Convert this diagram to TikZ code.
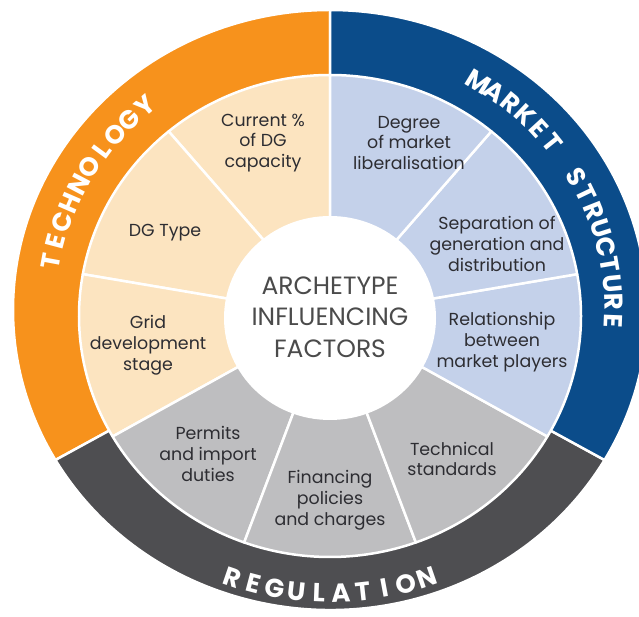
\documentclass[tikz,border=0pt]{standalone}
\usepackage{fontspec}
\setmainfont{Poppins}
\usetikzlibrary{calc}
\definecolor{techO}{RGB}{247,146,28}
\definecolor{techL}{RGB}{252,228,192}
\definecolor{mktD}{RGB}{11,76,138}
\definecolor{mktL}{RGB}{196,209,234}
\definecolor{regD}{RGB}{78,78,81}
\definecolor{regL}{RGB}{190,190,192}
\definecolor{txt}{RGB}{45,45,50}
\definecolor{ctxt}{RGB}{75,75,75}
\newcommand\wedgepie[6]{%
  \filldraw[fill=#1, draw=white, line width=2.5pt, line join=round]
    (#2) -- +(#3:#5 and #6) arc[start angle=#3, end angle=#4, x radius=#5, y radius=#6] -- cycle;}
\tikzset{
  factor/.style={align=center, text=txt, inner sep=0pt,
    font=\fontsize{17.4}{20.8}\selectfont},
  centretext/.style={align=center, text=ctxt, inner sep=0pt,
    font=\fontsize{25}{31.5}\selectfont},
  ringlbl/.style={text=white, inner sep=0pt, anchor=center,
    font=\fontsize{26}{26}\selectfont\bfseries}
}
\begin{document}
\begin{tikzpicture}[x=1pt,y=1pt]
\clip (0,0) rectangle (639,617);
\fill[white] (0,0) rectangle (639,617);
\coordinate (O) at (330,307);
\coordinate (I) at (330,301);
\coordinate (W) at (330,299);
% outer ring
\wedgepie{techO}{O}{90}{210}{317pt}{300pt}
\wedgepie{regD}{O}{210}{330}{317pt}{300pt}
\wedgepie{mktD}{O}{-30}{90}{317pt}{300pt}
% inner wedges
\wedgepie{techL}{I}{90}{130}{251pt}{241pt}
\wedgepie{techL}{I}{130}{170}{251pt}{241pt}
\wedgepie{techL}{I}{170}{210}{251pt}{241pt}
\wedgepie{regL}{I}{210}{250}{251pt}{241pt}
\wedgepie{regL}{I}{250}{290}{251pt}{241pt}
\wedgepie{regL}{I}{290}{330}{251pt}{241pt}
\wedgepie{mktL}{I}{-30}{10}{251pt}{241pt}
\wedgepie{mktL}{I}{10}{50}{251pt}{241pt}
\wedgepie{mktL}{I}{50}{90}{251pt}{241pt}
% centre
\fill[white] (W) ellipse [x radius=106pt, y radius=102pt];
\node[centretext] (centre) at (330,300) {ARCHETYPE\\INFLUENCING\\FACTORS};
% factors
\node[factor] (current) at (263,474) {Current \%\\of DG\\capacity};
\node[factor] (dgtype) at (165,384) {DG Type};
\node[factor] (grid) at (148,272) {Grid\\development\\stage};
\node[factor] (permits) at (208,163) {Permits\\and import\\duties};
\node[factor] (financing) at (330,117) {Financing\\policies\\and charges};
\node[factor] (technical) at (452,158) {Technical\\standards};
\node[factor] (relation) at (502,275) {Relationship\\between\\market players};
\node[factor] (separation) at (497,373) {Separation of\\generation and\\distribution};
\node[factor] (degree) at (409,474) {Degree\\of market\\liberalisation};
% ring labels
\foreach \ch [count=\i from 0] in {T,E,C,H,N,O,L,O,G,Y}{
  \pgfmathsetmacro\ang{169.5-4.32*\i}
  \node[ringlbl, rotate=\ang-90] (tech\i) at ($(O)+(\ang:284pt and 269pt)$) {\ch};
}
\foreach \ch/\k in {M/0,A/1,R/2,K/3,E/4,T/5,S/7.2,T/8.2,R/9.2,U/10.2,C/11.2,T/12.2,U/13.2,R/14.2,E/15.2}{
  \pgfmathsetmacro\ang{58.5-4.0*\k}
  \node[ringlbl, rotate=\ang-90] (mkt\k) at ($(O)+(\ang:284pt and 268pt)$) {\ch};
}
\foreach \ch [count=\i from 0] in {R,E,G,U,L,A,T,I,O,N}{
  \pgfmathsetmacro\ang{251+4.22*\i}
  \node[ringlbl, rotate=\ang+90] (reg\i) at ($(O)+(\ang:298pt and 283pt)$) {\ch};
}
\end{tikzpicture}
\end{document}
